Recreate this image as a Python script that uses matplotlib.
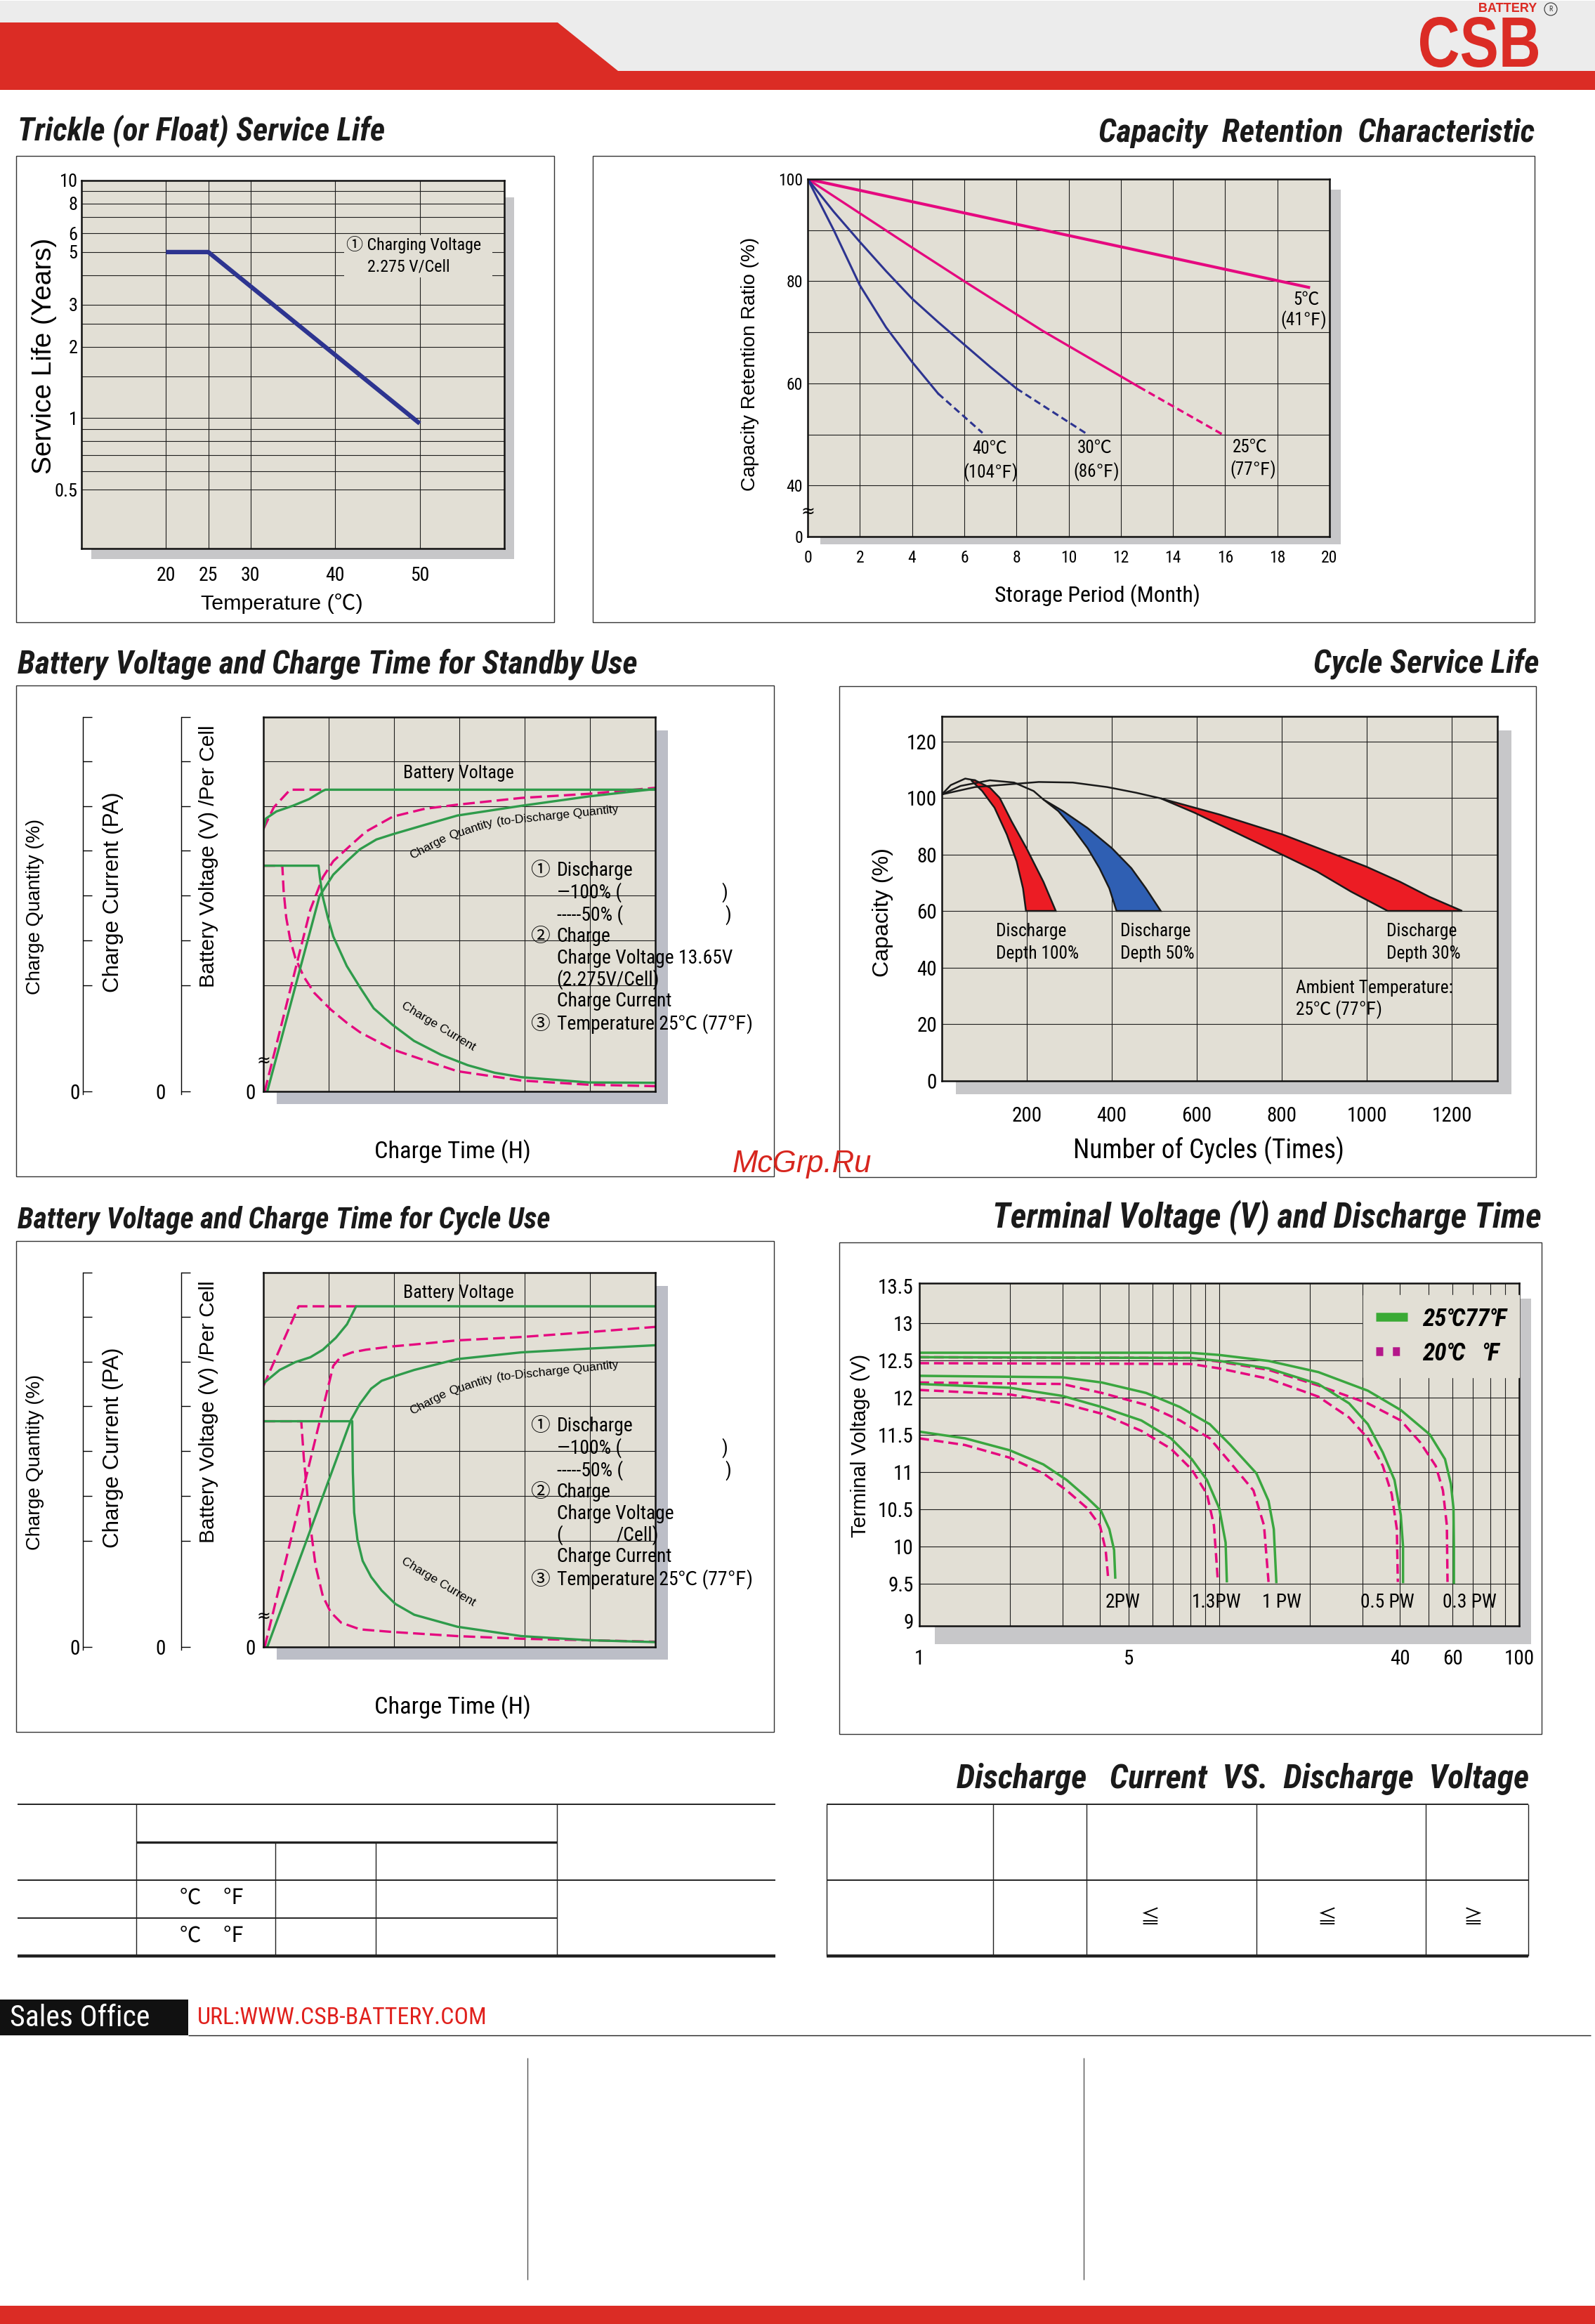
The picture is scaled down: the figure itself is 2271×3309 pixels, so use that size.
import matplotlib
matplotlib.use("Agg")
import matplotlib.pyplot as plt
from matplotlib import font_manager
from matplotlib.font_manager import FontProperties
from matplotlib.lines import Line2D
from matplotlib.patches import Rectangle, Polygon, Circle, PathPatch
from matplotlib.textpath import TextPath
from matplotlib.transforms import Affine2D
from matplotlib.ticker import NullLocator

W, H = 2271, 3309

installed = {f.name for f in font_manager.fontManager.ttflist}


def pick_narrow():
    for name in ["Liberation Sans Narrow", "Roboto Condensed", "Open Sans Condensed",
                 "Noto Sans Condensed", "DejaVu Sans Condensed"]:
        if name in installed:
            return name, "normal"
    for f in font_manager.fontManager.ttflist:
        if f.stretch in ("condensed", "semi-condensed") and "Sans" in f.name:
            return f.name, f.stretch
    return "DejaVu Sans", "normal"


NARROW, STRETCH = pick_narrow()
SANS = "Liberation Sans" if "Liberation Sans" in installed else "DejaVu Sans"
CJK = "Noto Sans CJK SC"
plt.rcParams["font.family"] = [NARROW, CJK, "DejaVu Sans"]
plt.rcParams["font.stretch"] = STRETCH

RED = "#db2c25"
PINK = "#e5097f"
GREEN = "#2f9b4b"
NAVY = "#2d3490"
PLOT_BG = "#e2dfd5"
GRID = "#1c1c1c"

# ---- trickle (float) service life ----
trickle_temp = [20, 25, 50]
trickle_years = [5.0, 5.0, 0.95]
trickle_xticks = [20, 25, 30, 40, 50]
trickle_yticks = [0.5, 1, 2, 3, 5, 6, 8, 10]
trickle_ytick_labels = ["0.5", "1", "2", "3", "5", "6", "8", "10"]
trickle_ygrid = [0.5, 0.6, 0.7, 0.8, 0.9, 1, 1.5, 2, 2.5, 3, 4, 5, 6, 7, 8, 9]

# ---- capacity retention (month, %) ----
ret_month_ticks = list(range(0, 21, 2))
ret_pct_ticks = [30, 40, 60, 80, 100]
ret_pct_labels = ["0", "40", "60", "80", "100"]
ret_pct_grid = [40, 50, 60, 70, 80, 90]
ret5_month = [0, 19.2]
ret5_pct = [100, 78.8]
ret25_month = [0, 2, 4, 6, 9, 12.7]
ret25_pct = [100, 93.3, 86.6, 80.0, 70.3, 59.3]
ret25_dash_month = [12.7, 15.9]
ret25_dash_pct = [59.3, 50.0]
ret30_month = [0, 1, 2, 3, 4, 5, 6, 7, 8]
ret30_pct = [100, 93.6, 87.7, 82.0, 76.6, 72.0, 67.6, 63.2, 59.0]
ret30_dash_month = [8, 10.7]
ret30_dash_pct = [59.0, 50.1]
ret40_month = [0, 1, 2, 3, 4, 5]
ret40_pct = [100, 90.0, 79.2, 71.0, 64.2, 58.0]
ret40_dash_month = [5, 6.7]
ret40_dash_pct = [58.0, 50.3]

# ---- charge characteristics (time in grid columns, value in % of chart height) ----
charge_ygrid = [28.3, 40.3, 52.3, 64.3, 76.1, 88.2]
side_ticks = [0, 28.3, 40.3, 52.3, 64.3, 76.1, 88.2, 100]

sb_volt_h = [0, 0.04, 0.2, 0.45, 0.7, 0.9, 0.95, 6]
sb_volt_v = [70.1, 72.9, 74.8, 76.3, 78.1, 80.2, 80.6, 80.6]
sb_volt50_h = [0, 0.16, 0.41, 0.93]
sb_volt50_v = [70.1, 75.9, 80.6, 80.6]
sb_q100_h = [0.06, 0.86, 1.07, 1.28, 1.48, 1.73, 1.98, 2.47, 2.97, 3.95, 4.98, 6]
sb_q100_v = [0, 52.2, 57.9, 61.5, 64.7, 67.3, 68.7, 71.2, 73.7, 76.3, 78.8, 80.8]
sb_q50_h = [0.02, 0.72, 0.91, 1.07, 1.32, 1.57, 1.98, 2.47, 2.97, 3.95, 4.98, 6]
sb_q50_v = [0, 48.6, 57.2, 61.5, 65.5, 69.4, 73.4, 75.5, 76.6, 78.4, 79.5, 81.1]
sb_i100_h = [0, 0.844, 0.865, 0.906, 0.988, 1.07, 1.277, 1.483, 1.689, 1.977, 2.306,
             2.718, 3.13, 3.54, 3.95, 4.98, 6]
sb_i100_v = [60.3, 60.3, 57.2, 52.2, 46.4, 41.4, 33.5, 27.7, 22.2, 17.8, 13.5,
             9.8, 7.0, 5.0, 3.8, 2.4, 2.3]
sb_i50_h = [0, 0.29, 0.31, 0.35, 0.41, 0.49, 0.62, 0.78, 1.03, 1.28, 1.48, 1.98,
            2.47, 2.97, 3.95, 4.98, 6]
sb_i50_v = [60.3, 60.3, 53.6, 46.4, 40.6, 35.6, 30.6, 26.3, 21.9, 18.3, 15.8, 11.2,
            8.3, 5.4, 2.9, 1.8, 1.4]

cu_volt_h = [0, 0.25, 0.49, 0.72, 0.91, 1.11, 1.28, 1.42, 6]
cu_volt_v = [70.4, 74.0, 76.1, 77.4, 79.4, 82.6, 86.2, 91.0, 91.0]
cu_volt50_h = [0, 0.54, 1.42]
cu_volt50_v = [69.7, 91.0, 91.0]
cu_q100_h = [0.06, 1.34, 1.48, 1.65, 1.81, 2.06, 2.31, 2.97, 3.95, 4.98, 6]
cu_q100_v = [0, 60.6, 65.0, 69.0, 71.1, 72.6, 74.0, 76.9, 78.7, 79.7, 80.6]
cu_q50_h = [0.02, 1.07, 1.19, 1.36, 1.57, 1.98, 2.31, 2.97, 3.95, 4.98, 6]
cu_q50_v = [0, 75.1, 77.6, 78.7, 79.4, 80.3, 80.8, 81.9, 82.8, 84.1, 85.5]
cu_i100_h = [0, 1.36, 1.37, 1.39, 1.44, 1.52, 1.65, 1.81, 2.02, 2.31, 2.97, 3.95, 4.98, 6]
cu_i100_v = [60.3, 60.3, 46.7, 35.9, 28.7, 23.0, 18.7, 15.1, 11.5, 8.6, 5.4, 2.9, 1.8, 1.3]
cu_i50_h = [0, 0.58, 0.62, 0.66, 0.72, 0.80, 0.91, 1.03, 1.19, 1.48, 1.98, 2.97, 3.95, 6]
cu_i50_v = [60.3, 60.3, 50.3, 43.1, 32.3, 21.6, 13.6, 9.3, 6.5, 4.7, 4.0, 2.9, 2.2, 1.4]

# ---- cycle service life (cycles, capacity %) ----
cyc_ticks = [200, 400, 600, 800, 1000, 1200]
cap_ticks = [0, 20, 40, 60, 80, 100, 120]
arch100_n = [0, 21, 55, 78]
arch100_c = [101.3, 104.6, 106.9, 106.3]
arch50_n = [0, 44, 113, 170, 216, 239]
arch50_c = [101.3, 104.3, 106.3, 105.5, 102.5, 99.5]
arch30_n = [0, 78, 228, 308, 389, 457, 515]
arch30_c = [101.3, 103.9, 105.7, 105.5, 103.9, 101.9, 99.9]
d100_in_n = [69, 95, 124, 153, 176, 191, 198]
d100_in_c = [106.3, 102.5, 96.6, 87.1, 77.6, 68.1, 60.1]
d100_out_n = [78, 113, 136, 164, 199, 239, 268]
d100_out_c = [106.3, 103.7, 100.1, 91.8, 82.3, 70.4, 60.1]
d50_in_n = [239, 274, 308, 343, 371, 394, 411]
d50_in_c = [99.5, 95.4, 89.4, 82.3, 75.2, 68.1, 60.1]
d50_out_n = [239, 285, 343, 400, 446, 480, 515]
d50_out_c = [99.5, 95.4, 89.4, 82.3, 75.2, 68.1, 60.1]
d30_in_n = [515, 595, 710, 802, 883, 963, 1049]
d30_in_c = [99.9, 94.8, 86.5, 79.9, 74.0, 66.9, 60.1]
d30_out_n = [515, 653, 802, 917, 998, 1078, 1147, 1224]
d30_out_c = [99.9, 94.2, 87.1, 80.5, 75.8, 70.4, 65.1, 60.1]

# ---- terminal voltage vs discharge time ----
tv_xticks = [1, 5, 40, 60, 100]
tv_xgrid = [2, 3, 4, 5, 6, 7, 8, 9, 10, 20, 30, 40, 50, 60, 70, 80, 90]
tv_yticks = [9, 9.5, 10, 10.5, 11, 11.5, 12, 12.5, 13, 13.5]
tv_ygrid = [9.5, 10, 10.5, 11, 11.5, 12, 12.5, 13]
tv25_t = [
    [1, 8, 10, 14.6, 21.4, 31.3, 40.3, 50.4, 56.6, 59.2, 60.4, 60.6, 60.6],
    [1, 8, 10, 14.6, 21.4, 27.1, 31.3, 35.1, 38.4, 40.3, 41, 41],
    [1, 3.0, 4.06, 5.7, 7.4, 9.3, 10.9, 13.3, 14.6, 15.2, 15.5],
    [1, 2.0, 3.0, 4.06, 5.5, 6.9, 8.1, 9.1, 10, 10.5, 10.6],
    [1, 1.42, 2.0, 2.59, 3.1, 3.63, 4.04, 4.3, 4.46, 4.5],
]
tv25_v = [
    [12.60, 12.60, 12.57, 12.49, 12.34, 12.09, 11.83, 11.5, 11.17, 10.84, 10.51, 10.0, 9.51],
    [12.54, 12.53, 12.49, 12.39, 12.18, 11.92, 11.64, 11.26, 10.89, 10.42, 10.0, 9.52],
    [12.29, 12.27, 12.2, 12.06, 11.87, 11.64, 11.36, 10.98, 10.61, 10.23, 9.52],
    [12.18, 12.13, 12.02, 11.87, 11.69, 11.45, 11.17, 10.89, 10.51, 10.05, 9.53],
    [11.54, 11.45, 11.29, 11.1, 10.89, 10.65, 10.47, 10.23, 9.95, 9.58],
]
tv20_t = [
    [1, 8, 10, 14.6, 21.4, 31.3, 40.3, 46.7, 52.7, 55.7, 57.4, 57.7],
    [1, 8, 10, 14.6, 21.4, 27.1, 31.3, 35.1, 37.6, 39.1, 39.4],
    [1, 3, 4.06, 5.7, 7.4, 9.3, 10.9, 13.0, 14.1, 14.6],
    [1, 2, 3, 4.06, 5.5, 6.9, 8.1, 9.1, 9.6, 9.9],
    [1, 1.42, 2, 2.59, 3.1, 3.63, 4.0, 4.18, 4.26],
]
tv20_v = [
    [12.54, 12.53, 12.48, 12.37, 12.16, 11.92, 11.69, 11.40, 11.08, 10.75, 10.28, 9.52],
    [12.46, 12.45, 12.39, 12.25, 12.01, 11.73, 11.45, 11.08, 10.7, 10.23, 9.52],
    [12.2, 12.18, 12.06, 11.9, 11.69, 11.45, 11.12, 10.75, 10.28, 9.52],
    [12.1, 12.04, 11.92, 11.78, 11.55, 11.31, 11.03, 10.70, 10.28, 9.52],
    [11.45, 11.36, 11.19, 10.98, 10.75, 10.51, 10.28, 9.95, 9.58],
]
pw_labels = ["2PW", "1.3PW", "1 PW", "0.5 PW", "0.3 PW"]
pw_label_t = [4.18, 8.1, 13.9, 29.5, 55.6]


fig = plt.figure(figsize=(W / 100, H / 100), dpi=100)
renderer = fig.canvas.get_renderer()
bg = fig.add_axes([0, 0, 1, 1])
bg.set_xlim(0, W)
bg.set_ylim(H, 0)
bg.axis("off")


def add_axes_px(x0, y0, x1, y1):
    return fig.add_axes([x0 / W, 1 - y1 / H, (x1 - x0) / W, (y1 - y0) / H])


def rect(x0, y0, x1, y1, **kw):
    bg.add_patch(Rectangle((x0, y0), x1 - x0, y1 - y0, **kw))


def hline(y, x0, x1, lw=1.0, color="#222222"):
    bg.plot([x0, x1], [y, y], color=color, lw=lw, solid_capstyle="butt")


def vline(x, y0, y1, lw=1.0, color="#222222"):
    bg.plot([x, x], [y0, y1], color=color, lw=lw, solid_capstyle="butt")


def size_for(s, width, **kw):
    # font size that makes the string `width` pixels wide
    t = bg.text(0, 0, s, fontsize=20, **kw)
    w = t.get_window_extent(renderer).width
    t.remove()
    return 20 * width / w


def fit_text(x, y, s, width, ax=None, **kw):
    ax = bg if ax is None else ax
    t = ax.text(x, y, s, fontsize=20, **kw)
    box = t.get_window_extent(renderer)
    length = box.height if kw.get("rotation") == 90 else box.width
    t.set_fontsize(20 * width / length)
    return t


def path_text(s, x0, y0, x1, y1, color, **fp):
    # text stretched into a pixel box (for the logo)
    tp = TextPath((0, 0), s, size=100, prop=FontProperties(**fp))
    ext = tp.get_extents()
    tr = (Affine2D().translate(-ext.x0, -ext.y0)
          .scale((x1 - x0) / ext.width, -(y1 - y0) / ext.height).translate(x0, y1))
    bg.add_patch(PathPatch(tr.transform_path(tp), color=color, lw=0))


def title(x, y, s, width, ha="left"):
    fit_text(x, y, s, width, ha=ha, va="center", family=[NARROW, CJK],
             weight="bold", style="italic", color="#1a1a1a")


def style_plot(ax):
    ax.set_facecolor(PLOT_BG)
    for sp in ax.spines.values():
        sp.set_linewidth(1.8)
        sp.set_color("#111111")
        sp.set_zorder(5)
    ax.tick_params(length=0)


def grid(ax, xs=(), ys=()):
    for v in xs:
        ax.axvline(v, color=GRID, lw=0.8, zorder=1)
    for v in ys:
        ax.axhline(v, color=GRID, lw=0.8, zorder=1)


# ---------------- header ----------------
rect(0, 1, W, 101, color="#ececec", lw=0)
bg.add_patch(Polygon([(0, 32), (794, 32), (880, 101), (W, 101), (W, 128), (0, 128)],
                     closed=True, color=RED, lw=0))
path_text("CSB", 2022, 24, 2190, 96, RED, family=[SANS, "DejaVu Sans"], weight="bold")
path_text("BATTERY", 2106, 4, 2188, 17, RED, family=[SANS, "DejaVu Sans"], weight="bold")
bg.add_patch(Circle((2208, 13), 9, fill=False, ec="#333333", lw=0.8))
bg.text(2208, 13, "R", fontsize=7, ha="center", va="center", color="#333333")

# ---------------- trickle service life ----------------
title(25, 187, "Trickle (or Float) Service Life", 522)
rect(23, 222, 789, 886, fill=False, ec="#333333", lw=1.0)
rect(130, 281, 732, 796, color="#c7c7c9", lw=0)
ax1 = add_axes_px(116, 257, 718, 781)
style_plot(ax1)
ax1.set_yscale("log")
ax1.set_xlim(10, 60)
ax1.set_ylim(0.283, 10)
grid(ax1, trickle_xticks, trickle_ygrid)
ax1.plot(trickle_temp, trickle_years, color=NAVY, lw=4.5, solid_capstyle="butt", zorder=3)
ax1.set_xticks(trickle_xticks)
ax1.set_xticklabels([str(v) for v in trickle_xticks], fontsize=20)
ax1.set_yticks(trickle_yticks)
ax1.set_yticklabels(trickle_ytick_labels, fontsize=19)
ax1.yaxis.set_minor_locator(NullLocator())
ax1.tick_params(axis="x", pad=18)
ax1.tick_params(axis="y", pad=4)
ax1.add_patch(Rectangle((41.1, 3.9), 17.5, 2.0, facecolor=PLOT_BG, lw=0, zorder=2))
fs_note1 = size_for("Charging Voltage", 163)
ax1.text(41.3, 5.38, "① Charging Voltage", fontsize=fs_note1, va="center", zorder=4)
ax1.text(43.8, 4.34, "2.275 V/Cell", fontsize=fs_note1, va="center", zorder=4)
fit_text(63, 507, "Service Life (Years)", 337, rotation=90, ha="center", va="center",
         family=[SANS, CJK])
fit_text(401, 859, "Temperature (℃)", 230, ha="center", va="center", family=[SANS, CJK])

# ---------------- capacity retention ----------------
title(2185, 189, "Capacity  Retention  Characteristic", 620, ha="right")
rect(844, 222, 2185, 886, fill=False, ec="#333333", lw=1.0)
rect(1168, 270, 1909, 775, color="#c7c7c9", lw=0)
ax2 = add_axes_px(1150, 255, 1893, 764)
style_plot(ax2)
ax2.set_xlim(0, 20)
ax2.set_ylim(30, 100)
grid(ax2, ret_month_ticks[1:-1], ret_pct_grid)
ax2.plot(ret5_month, ret5_pct, color=PINK, lw=3.0, zorder=3)
ax2.plot(ret25_month, ret25_pct, color=PINK, lw=2.4, zorder=3)
ax2.plot(ret25_dash_month, ret25_dash_pct, color=PINK, lw=2.4, dashes=(3.0, 1.7), zorder=3)
ax2.plot(ret30_month, ret30_pct, color=NAVY, lw=2.2, zorder=3)
ax2.plot(ret30_dash_month, ret30_dash_pct, color=NAVY, lw=2.2, dashes=(3.2, 1.8), zorder=3)
ax2.plot(ret40_month, ret40_pct, color=NAVY, lw=2.2, zorder=3)
ax2.plot(ret40_dash_month, ret40_dash_pct, color=NAVY, lw=2.2, dashes=(3.2, 1.8), zorder=3)
ax2.set_xticks(ret_month_ticks)
ax2.set_xticklabels([str(v) for v in ret_month_ticks], fontsize=17)
ax2.set_yticks(ret_pct_ticks)
ax2.set_yticklabels(ret_pct_labels, fontsize=17)
ax2.tick_params(axis="x", pad=14)
ax2.tick_params(axis="y", pad=5)
for m, y, s in [(19.1, 76.3, "5℃"), (19.0, 72.4, "(41℉)"),
                (6.98, 47.2, "40℃"), (7.0, 42.6, "(104℉)"),
                (11.0, 47.3, "30℃"), (11.07, 42.7, "(86℉)"),
                (16.95, 47.5, "25℃"), (17.07, 43.1, "(77℉)")]:
    ax2.text(m, y, s, fontsize=18, ha="center", va="center", zorder=4)
ax2.text(0, 34.8, "≈", fontsize=17, ha="center", va="center", clip_on=False, zorder=6,
         family=["DejaVu Sans"])
fit_text(1068, 518, "Capacity Retention Ratio (%)", 361, rotation=90, ha="center",
         va="center", family=[SANS, CJK])
fit_text(1562, 848, "Storage Period (Month)", 292, ha="center", va="center")


# ---------------- charge characteristics panels ----------------
def side_axis(xpix, top, pad):
    a = add_axes_px(xpix, top, xpix + 20, top + 537)
    a.patch.set_visible(False)
    for k in ("top", "right", "bottom"):
        a.spines[k].set_visible(False)
    a.spines["left"].set_linewidth(1.0)
    a.set_xticks([])
    a.set_ylim(-0.75, 100)
    a.set_yticks(side_ticks)
    a.set_yticklabels(["0"] + [""] * (len(side_ticks) - 1), fontsize=21)
    a.tick_params(axis="y", direction="in", length=9, width=1.0, pad=pad)


fs_notes = size_for("Charge Voltage 13.65V", 250)
fs_bv = size_for("Battery Voltage", 157)


def charge_panel(top, name, name_w, volt, volt50, q100, q50, i100, i50, bv_y, voltage_lines):
    bottom = top + 533
    title(25, top - 75, name, name_w)
    rect(23, top - 45, 1102, top + 654, fill=False, ec="#333333", lw=1.0)
    rect(394, top + 19, 951, bottom + 18, color="#bcbec7", lw=0)
    side_axis(117.5, top, 3)
    side_axis(258, top, 16)
    ax = add_axes_px(375, top, 933, bottom)
    style_plot(ax)
    ax.set_xlim(0, 6)
    ax.set_ylim(0, 100)
    grid(ax, [1, 2, 3, 4, 5], charge_ygrid)
    solid = dict(color=GREEN, lw=2.4, zorder=3)
    dashed = dict(color=PINK, lw=2.4, dashes=(5.0, 2.2), zorder=3)
    ax.plot(*volt50, **dashed)
    ax.plot(*q50, **dashed)
    ax.plot(*i50, **dashed)
    ax.plot(*volt, **solid)
    ax.plot(*q100, **solid)
    ax.plot(*i100, **solid)
    ax.set_xticks([])
    ax.set_yticks([0])
    ax.set_yticklabels(["0"], fontsize=21)
    ax.tick_params(axis="y", pad=8)
    ax.text(2.99, bv_y, "Battery Voltage", fontsize=fs_bv, ha="center", va="center", zorder=4)
    ax.text(2.52, 65.3, "Charge", fontsize=12.5, family=[SANS], rotation=28,
            ha="center", va="center", zorder=4)
    ax.text(3.18, 70.0, "Quantity", fontsize=12.5, family=[SANS], rotation=18,
            ha="center", va="center", zorder=4)
    ax.text(4.50, 73.6, "(to-Discharge Quantity", fontsize=12.5, family=[SANS], rotation=6,
            ha="center", va="center", zorder=4)
    ax.text(2.68, 17.3, "Charge Current", fontsize=12.5, family=[SANS], rotation=-31,
            ha="center", va="center", zorder=4)
    ax.text(0, 8.2, "≈", fontsize=17, ha="center", va="center", clip_on=False, zorder=6,
            family=["DejaVu Sans"])
    notes = [(59.0, "Discharge"), (53.2, "—100% ("), (47.1, "-----50% ("), (41.4, "Charge"),
             (35.6, voltage_lines[0]), (29.9, voltage_lines[1]), (24.1, "Charge Current"),
             (18.0, "Temperature 25℃ (77℉)")]
    for y, s in notes:
        ax.text(4.49, y, s, fontsize=fs_notes, va="center", clip_on=False, zorder=6)
    for y, s in [(59.0, "①"), (41.4, "②"), (18.0, "③")]:
        ax.text(4.25, y, s, fontsize=fs_notes, ha="center", va="center", clip_on=False, zorder=6)
    ax.text(7.06, 53.2, ")", fontsize=fs_notes, ha="center", va="center", clip_on=False, zorder=6)
    ax.text(7.12, 47.1, ")", fontsize=fs_notes, ha="center", va="center", clip_on=False, zorder=6)
    if len(voltage_lines) > 2:
        ax.text(5.40, 29.9, voltage_lines[2], fontsize=fs_notes, va="center", clip_on=False,
                zorder=6)
    fit_text(50, top + 270, "Charge Quantity (%)", 251, rotation=90, ha="center",
             va="center", family=[SANS])
    fit_text(161, top + 249, "Charge Current (PA)", 285, rotation=90, ha="center",
             va="center", family=[SANS])
    fit_text(297, top + 198, "Battery Voltage (V) /Per Cell", 373, rotation=90, ha="center",
             va="center", family=[SANS])
    fit_text(644, top + 619, "Charge Time (H)", 223, ha="center", va="center")


charge_panel(1021, "Battery Voltage and Charge Time for Standby Use", 881,
             (sb_volt_h, sb_volt_v), (sb_volt50_h, sb_volt50_v), (sb_q100_h, sb_q100_v),
             (sb_q50_h, sb_q50_v), (sb_i100_h, sb_i100_v), (sb_i50_h, sb_i50_v),
             84.9, ["Charge Voltage 13.65V", "(2.275V/Cell)"])
charge_panel(1812, "Battery Voltage and Charge Time for Cycle Use", 757,
             (cu_volt_h, cu_volt_v), (cu_volt50_h, cu_volt50_v), (cu_q100_h, cu_q100_v),
             (cu_q50_h, cu_q50_v), (cu_i100_h, cu_i100_v), (cu_i50_h, cu_i50_v),
             94.5, ["Charge Voltage", "(", "/Cell)"])

# ---------------- cycle service life ----------------
title(2191, 945, "Cycle Service Life", 321, ha="right")
rect(1195, 977, 2187, 1676, fill=False, ec="#333333", lw=1.0)
rect(1361, 1040, 2152, 1558, color="#c7c7c9", lw=0)
ax4 = add_axes_px(1341, 1020, 2132, 1539)
style_plot(ax4)
ax4.set_xlim(0, 1307)
ax4.set_ylim(0, 128.9)
grid(ax4, cyc_ticks, cap_ticks[1:])
ax4.fill(d100_in_n + d100_out_n[::-1], d100_in_c + d100_out_c[::-1],
         facecolor="#ec1c24", edgecolor="#1a1a1a", lw=1.8, zorder=3)
ax4.fill(d50_in_n + d50_out_n[::-1], d50_in_c + d50_out_c[::-1],
         facecolor="#2f5fb3", edgecolor="#1a1a1a", lw=1.8, zorder=3)
ax4.fill(d30_in_n + d30_out_n[::-1], d30_in_c + d30_out_c[::-1],
         facecolor="#ec1c24", edgecolor="#1a1a1a", lw=1.8, zorder=3)
for n, c in [(arch100_n, arch100_c), (arch50_n, arch50_c), (arch30_n, arch30_c)]:
    ax4.plot(n, c, color="#1a1a1a", lw=1.8, zorder=4)
ax4.set_xticks(cyc_ticks)
ax4.set_xticklabels([str(v) for v in cyc_ticks], fontsize=21)
ax4.set_yticks(cap_ticks)
ax4.set_yticklabels([str(v) for v in cap_ticks], fontsize=21)
ax4.tick_params(axis="x", pad=26)
ax4.tick_params(axis="y", pad=5)
fs_cyc = min(size_for("Depth 100%", 125), size_for("Ambient Temperature:", 223))
for n, s in [(128, "100%"), (420, "50%"), (1046, "30%")]:
    ax4.text(n, 52.9, "Discharge", fontsize=fs_cyc, va="center", zorder=4)
    ax4.text(n, 44.9, "Depth " + s, fontsize=fs_cyc, va="center", zorder=4)
ax4.text(833, 32.8, "Ambient Temperature:", fontsize=fs_cyc, va="center", zorder=4)
ax4.text(833, 25.1, "25℃ (77℉)", fontsize=fs_cyc, va="center", zorder=4)
fit_text(1257, 1299, "Capacity (%)", 184, rotation=90, ha="center", va="center",
         family=[SANS, CJK])
fit_text(1721, 1638, "Number of Cycles (Times)", 386, ha="center", va="center")

# ---------------- terminal voltage ----------------
title(2195, 1734, "Terminal Voltage (V) and Discharge Time", 781, ha="right")
rect(1195, 1769, 2195, 2469, fill=False, ec="#333333", lw=1.0)
rect(1331, 1849, 2180, 2341, color="#c7c7c9", lw=0)
ax6 = add_axes_px(1309, 1827, 2163, 2315)
style_plot(ax6)
ax6.set_xscale("log")
ax6.set_xlim(1, 100)
ax6.set_ylim(8.93, 13.535)
grid(ax6, tv_xgrid, tv_ygrid)
for t, v in zip(tv20_t, tv20_v):
    ax6.plot(t, v, color=PINK, lw=2.5, dashes=(4.0, 2.0), zorder=3)
for t, v in zip(tv25_t, tv25_v):
    ax6.plot(t, v, color="#3aa63f", lw=2.5, zorder=3)
fs_pw = size_for("0.3 PW", 77)
for t, s in zip(pw_label_t, pw_labels):
    ax6.text(t, 9.25, s, fontsize=fs_pw, va="center", zorder=4)
ax6.set_xticks(tv_xticks)
ax6.set_xticklabels([str(v) for v in tv_xticks], fontsize=21)
ax6.xaxis.set_minor_locator(NullLocator())
ax6.set_yticks(tv_yticks)
ax6.set_yticklabels([("%g" % v) for v in tv_yticks], fontsize=21)
ax6.tick_params(axis="x", pad=24)
ax6.tick_params(axis="y", pad=6)
leg_prop = dict(family=[NARROW, CJK], weight="bold", style="italic")
leg_size = size_for("25℃77℉", 120, **leg_prop)
handles = [Line2D([], [], color="#3aaa35", lw=9, solid_capstyle="butt"),
           Line2D([], [], color="#b5178b", lw=9, dashes=(0.8, 1.1), dash_capstyle="butt")]
leg = ax6.legend(handles, ["25℃77℉", "20℃   ℉"], loc="upper right",
                 bbox_to_anchor=(1.0, 0.965), borderaxespad=0, frameon=True, fancybox=False,
                 facecolor=PLOT_BG, edgecolor=PLOT_BG, framealpha=1, handlelength=1.3,
                 handletextpad=0.6, labelspacing=0.45, borderpad=0.5,
                 prop=dict(size=leg_size, **leg_prop))
leg.set_zorder(6)
fit_text(1225, 2058, "Terminal Voltage (V)", 261, rotation=90, ha="center", va="center",
         family=[SANS])

# watermark
fit_text(1142, 1657, "McGrp.Ru", 198, ha="center", va="center", color="#d7261e",
         style="italic", family=[SANS])

# ---------------- tables ----------------
title(2177, 2533, "Discharge   Current  VS.  Discharge  Voltage", 814, ha="right")
hline(2569, 25, 1104, 1.4)
hline(2623, 194, 793, 2.4)
hline(2677, 25, 1104, 1.4)
hline(2731, 25, 793, 1.4)
hline(2785, 25, 1104, 3.2)
for x in (194, 793):
    vline(x, 2569, 2785)
for x in (392, 535):
    vline(x, 2623, 2785)
for y in (2702, 2756):
    bg.text(271, y, "℃", fontsize=22, ha="center", va="center", family=[CJK])
    bg.text(332, y, "℉", fontsize=22, ha="center", va="center", family=[CJK])

hline(2569, 1177, 2176, 1.4)
hline(2677, 1177, 2176, 1.4)
hline(2785, 1177, 2176, 3.2)
for x in (1177, 1414, 1547, 1789, 2030, 2176):
    vline(x, 2569, 2785)
for x, s in [(1637, "≦"), (1889, "≦"), (2098, "≧")]:
    bg.text(x, 2731, s, fontsize=20, ha="center", va="center", family=[CJK])

# ---------------- footer ----------------
rect(0, 2847, 268, 2898, color="#111111", lw=0)
fit_text(14, 2873, "Sales Office", 200, ha="left", va="center", color="white")
fit_text(281, 2873, "URL:WWW.CSB-BATTERY.COM", 412, ha="left", va="center", color="#e0201c")
hline(2898, 268, 2265, 1.0)
vline(751, 2930, 3246, 1.0, "#555555")
vline(1543, 2930, 3246, 1.0, "#555555")
rect(0, 3283, W, H, color=RED, lw=0)

fig.savefig("out.png", dpi=100)
